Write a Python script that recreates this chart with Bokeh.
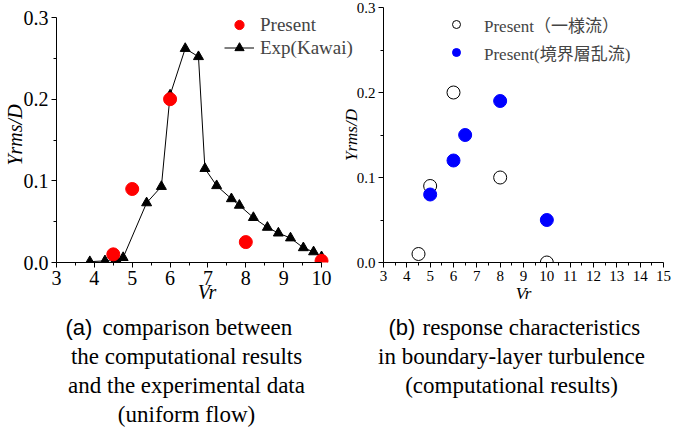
from bokeh.plotting import figure
from bokeh.models import Legend, LegendItem, FixedTicker, Range1d
from bokeh.layouts import row, column
from bokeh.core.properties import value
from bokeh.embed import file_html
from bokeh.resources import INLINE

# ---- data: panel (a) ----
present_vr = [4.5, 5.0, 6.0, 8.0, 10.0]
present_y = [0.01, 0.09, 0.20, 0.025, 0.002]
exp_vr = [3.88, 4.28, 4.57, 4.76, 5.38, 5.77, 6.0, 6.40, 6.75, 6.92, 7.23, 7.62, 7.83,
          8.20, 8.57, 8.86, 9.18, 9.52, 9.79, 10.0]
exp_y = [0.001, 0.002, 0.004, 0.006, 0.073, 0.093, 0.205, 0.262, 0.252, 0.115, 0.094,
         0.078, 0.070, 0.055, 0.043, 0.036, 0.030, 0.018, 0.013, 0.007]

# ---- data: panel (b) ----
uniform_vr = [4.5, 5.0, 6.0, 8.0, 10.0]
uniform_y = [0.01, 0.09, 0.20, 0.10, 0.0]
turb_vr = [5.0, 6.0, 6.5, 8.0, 10.0]
turb_y = [0.08, 0.12, 0.15, 0.19, 0.05]

xticks_a = [3, 4, 5, 6, 7, 8, 9, 10]
xticks_b = list(range(3, 16))
yticks = [0.0, 0.1, 0.2, 0.3]
ytick_labels = ["0.0", "0.1", "0.2", "0.3"]

cap_a_head = ["(a)", "comparison between"]
cap_a = ["the computational results", "and the experimental data", "(uniform flow)"]
cap_b_head = ["(b)", "response characteristics"]
cap_b = ["in boundary-layer turbulence", "(computational results)"]

SERIF = "Liberation Serif"
SANS = "Liberation Sans"
CJK = "'Liberation Serif', 'Noto Sans CJK JP'"


def style_axes(p, xt, fs, lfs, x_standoff, y_standoff):
    p.xaxis.ticker = FixedTicker(ticks=xt, minor_ticks=[t + 0.5 for t in xt[:-1]])
    p.yaxis.ticker = FixedTicker(ticks=yticks, minor_ticks=[0.05, 0.15, 0.25])
    p.yaxis.major_label_overrides = {t: l for t, l in zip(yticks, ytick_labels)}
    p.xaxis.bounds = (xt[0], xt[-1])
    p.yaxis.bounds = (yticks[0], yticks[-1])
    p.xaxis.axis_label = "Vr"
    p.yaxis.axis_label = "Yrms/D"
    p.xaxis.axis_label_standoff = x_standoff
    p.yaxis.axis_label_standoff = y_standoff
    for ax in (p.xaxis[0], p.yaxis[0]):
        ax.major_tick_in = 0
        ax.major_tick_out = 5
        ax.minor_tick_in = 0
        ax.minor_tick_out = 3
        ax.axis_line_color = "black"
        ax.major_tick_line_color = "black"
        ax.minor_tick_line_color = "black"
        ax.major_label_text_font = SERIF
        ax.major_label_text_font_size = fs
        ax.major_label_text_color = "black"
        ax.major_label_standoff = 3
        ax.axis_label_text_font = SERIF
        ax.axis_label_text_font_style = "italic"
        ax.axis_label_text_font_size = lfs
        ax.axis_label_text_color = "black"
    p.xgrid.visible = False
    p.ygrid.visible = False
    p.outline_line_color = None
    p.background_fill_color = "white"


# ---------------- panel (a) ----------------
# frame top aligned with panel (b); the 0.3 tick sits 10 px below the frame top
pa = figure(title=None, frame_width=301, frame_height=255, min_border_left=54,
            min_border_right=0, min_border_top=7, min_border_bottom=48,
            x_range=Range1d(3, 10.95), y_range=Range1d(0, 0.3 * 255 / 245),
            output_backend="svg", toolbar_location=None)
style_axes(pa, xticks_a, "20px", "20px", -7, -5)
pa.border_fill_color = "white"

r_exp_line = pa.line(exp_vr, exp_y, line_color="black", line_width=1)
r_exp_pts = pa.scatter(exp_vr, exp_y, marker="triangle", size=10, fill_color="black",
                       line_color="black")
r_pres = pa.scatter(present_vr, present_y, marker="circle", size=13, fill_color="#ff0000",
                    line_color="#ff0000")

leg_a = Legend(items=[LegendItem(label="Present", renderers=[r_pres]),
                      LegendItem(label="Exp(Kawai)", renderers=[r_exp_line, r_exp_pts])],
               location=(168, 203), background_fill_alpha=0, border_line_color=None,
               padding=0, spacing=0, margin=0, glyph_width=30, glyph_height=23,
               label_height=23, label_standoff=6, label_text_font=SERIF,
               label_text_font_size="19px")
pa.add_layout(leg_a, "center")

# ---------------- panel (b) ----------------
pb = figure(title=None, frame_width=280, frame_height=255, min_border_left=50,
            min_border_right=17, min_border_top=7, min_border_bottom=48,
            x_range=Range1d(3, 15), y_range=Range1d(0, 0.3),
            output_backend="svg", toolbar_location=None)
style_axes(pb, xticks_b, "15px", "17px", 0, -7)
pb.border_fill_alpha = 0
pb.margin = (0, 0, 0, -24)

r_uni = pb.scatter(uniform_vr, uniform_y, marker="circle", size=13, fill_color="white",
                   line_color="black", line_width=1)
r_turb = pb.scatter(turb_vr, turb_y, marker="circle", size=13, fill_color="#0000ff",
                    line_color="#0000ff")

leg_b = Legend(items=[LegendItem(label="Present（一様流）", renderers=[r_uni]),
                      LegendItem(label="Present(境界層乱流)", renderers=[r_turb])],
               location=(63, 196), background_fill_alpha=0, border_line_color=None,
               padding=0, spacing=0, margin=0, glyph_width=20, glyph_height=28,
               label_height=28, label_standoff=18, label_text_font=CJK,
               label_text_font_size="17px")
pb.add_layout(leg_b, "center")

# ---------------- captions ----------------
pc = figure(title=None, width=678, height=138, x_range=Range1d(0, 678),
            y_range=Range1d(138, 0), min_border=0, output_backend="svg",
            toolbar_location=None)
pc.axis.visible = False
pc.grid.visible = False
pc.outline_line_color = None

rows_y = [17, 46, 75, 104]
pc.text(x=[65], y=[rows_y[0]], text=[cap_a_head[0]], text_font=value(SANS),
        text_font_size="22px", text_align="left", text_baseline="middle", text_color="black")
pc.text(x=[102], y=[rows_y[0]], text=[cap_a_head[1]], text_font=value(SERIF),
        text_font_size="23px", text_align="left", text_baseline="middle", text_color="black")
pc.text(x=[186] * len(cap_a), y=rows_y[1:1 + len(cap_a)], text=cap_a, text_font=value(SERIF),
        text_font_size="23px", text_align="center", text_baseline="middle", text_color="black")
pc.text(x=[388], y=[rows_y[0]], text=[cap_b_head[0]], text_font=value(SANS),
        text_font_size="22px", text_align="left", text_baseline="middle", text_color="black")
pc.text(x=[422], y=[rows_y[0]], text=[cap_b_head[1]], text_font=value(SERIF),
        text_font_size="23px", text_align="left", text_baseline="middle", text_color="black")
pc.text(x=[511] * len(cap_b), y=rows_y[1:1 + len(cap_b)], text=cap_b, text_font=value(SERIF),
        text_font_size="23px", text_align="center", text_baseline="middle", text_color="black")

layout = column(row(pa, pb, spacing=0), pc, spacing=0)
open("out.html", "w").write(file_html(layout, INLINE))
